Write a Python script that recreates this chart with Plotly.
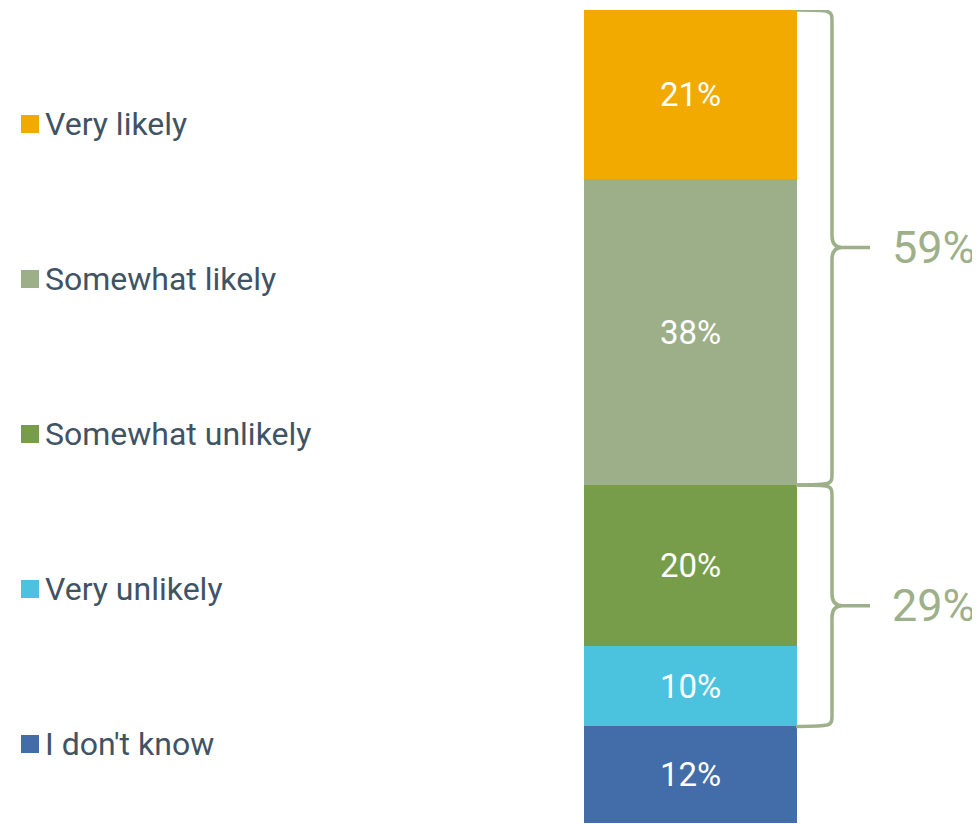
import plotly.graph_objects as go

# Data (bottom to top in the stack)
categories = ["I don't know", "Very unlikely", "Somewhat unlikely", "Somewhat likely", "Very likely"]
values = [12, 10, 20, 38, 21]
colors = ["#426DA9", "#4BC3DF", "#789D4A", "#9DAF88", "#F2A900"]
legend_order = ["Very likely", "Somewhat likely", "Somewhat unlikely", "Very unlikely", "I don't know"]
brace_groups = [["Very likely", "Somewhat likely"], ["Somewhat unlikely", "Very unlikely"]]
brace_labels = ["59%", "29%"]

OFF = 8  # page body margin
W, H = 980 - OFF, 824 - OFF
BAR_TOP, BAR_BOT = 10 - OFF, 823 - OFF
MT, MB = BAR_TOP, H - BAR_BOT
PLOT_H = H - MT - MB
total = sum(values)
px_per_unit = PLOT_H / total


def fx(px):
    return (px - OFF) / W


def fy(py):
    return (H - MB - (py - OFF)) / PLOT_H


fig = go.Figure()
for cat, val, col in zip(categories, values, colors):
    fig.add_trace(go.Bar(
        x=["Likelihood"], y=[val], name=cat,
        marker=dict(color=col, line=dict(width=0)),
        text=[f"{val}%"], textposition="inside", insidetextanchor="middle",
        textfont=dict(family="Roboto", size=33, color="white"),
        showlegend=False, hoverinfo="skip",
    ))

bounds = {}
acc = 0
for cat, val in zip(categories, values):
    bounds[cat] = (acc, acc + val)
    acc += val

shapes = []
annotations = []
xa = fx(796)
xv = fx(832)
xc = fx(842)
xt = fx(870)
d = 12 / px_per_unit
brace_color = "#9DB08A"
for grp, lab in zip(brace_groups, brace_labels):
    ytop = max(bounds[c][1] for c in grp)
    ybot = min(bounds[c][0] for c in grp)
    ym = (ytop + ybot) / 2
    path = (f"M {xa},{ytop} C {xv},{ytop} {xv},{ytop} {xv},{ytop - d} "
            f"L {xv},{ym + d} Q {xv},{ym} {xc},{ym} L {xt},{ym} "
            f"M {xc},{ym} Q {xv},{ym} {xv},{ym - d} "
            f"L {xv},{ybot + d} C {xv},{ybot} {xv},{ybot} {xa},{ybot}")
    shapes.append(dict(type="path", xref="paper", yref="y", path=path,
                       line=dict(color=brace_color, width=3.5)))
    annotations.append(dict(x=fx(890), y=ym, xref="paper", yref="y", text=lab,
                            showarrow=False, xanchor="left", yanchor="middle",
                            font=dict(family="Roboto", size=45, color=brace_color)))

col_map = dict(zip(categories, colors))
leg_y = [124, 279, 434, 589, 744]
for cat, py in zip(legend_order, leg_y):
    yc = fy(py)
    hs = 9 / PLOT_H
    shapes.append(dict(type="rect", xref="paper", yref="paper",
                       x0=fx(21), x1=fx(39), y0=yc - hs, y1=yc + hs,
                       fillcolor=col_map[cat], line=dict(width=0)))
    annotations.append(dict(x=fx(43), y=yc, xref="paper", yref="paper", text=cat,
                            showarrow=False, xanchor="left", yanchor="middle",
                            font=dict(family="Roboto", size=32, color="#3F5364")))

fig.update_layout(
    barmode="stack", bargap=0,
    width=W, height=H,
    margin=dict(l=0, r=0, t=MT, b=MB),
    paper_bgcolor="white", plot_bgcolor="white",
    xaxis=dict(domain=[fx(584), fx(797)], visible=False),
    yaxis=dict(range=[0, total], visible=False),
    shapes=shapes, annotations=annotations,
    showlegend=False,
)
fig.write_html("out.html")
